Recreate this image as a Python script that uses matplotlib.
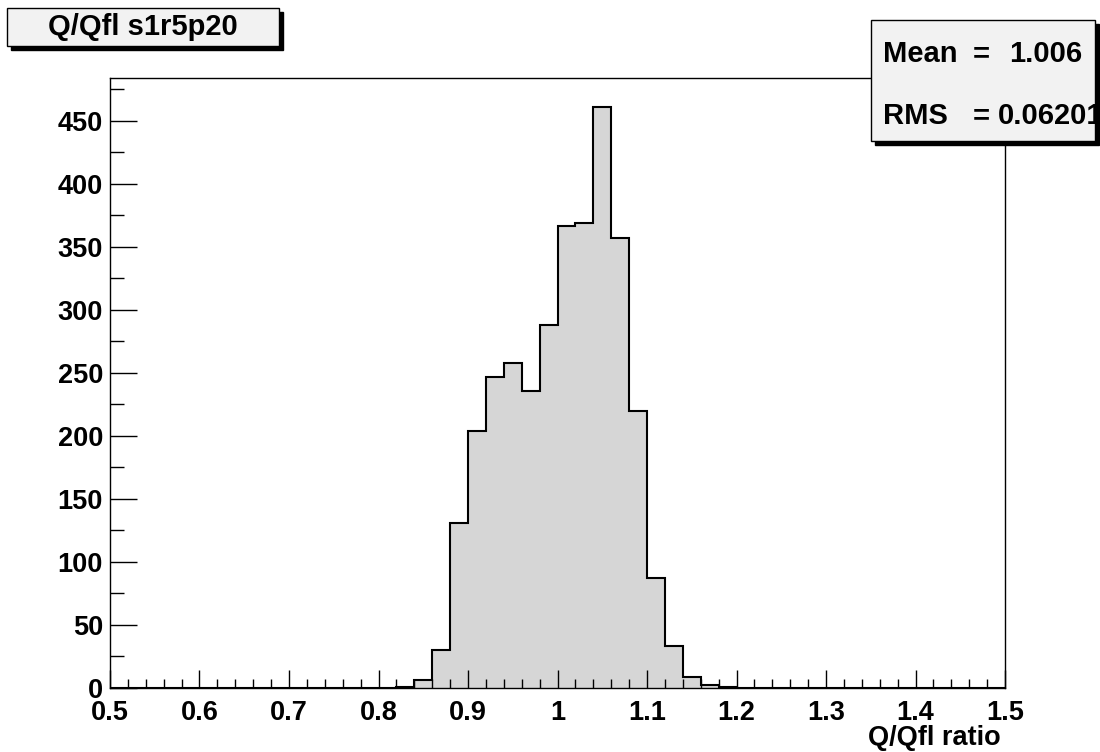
import numpy as np
import matplotlib
matplotlib.use("Agg")
import matplotlib.pyplot as plt
from matplotlib.patches import Rectangle
from matplotlib.ticker import MultipleLocator

plt.rcParams['font.family'] = ['Liberation Sans', 'DejaVu Sans']
plt.rcParams['font.weight'] = 'bold'

# ---- data ----
bin_edges_lo = 0.5
bin_edges_hi = 1.5
n_bins = 50
counts = [0]*16 + [1, 6, 30, 131, 204, 247, 258, 236, 288, 367, 369, 461, 357, 220,
                   87, 33, 9, 2, 1] + [0]*15
title_text = "Q/Qfl s1r5p20"
xlabel_text = "Q/Qfl ratio"
stat_names = ["Mean", "RMS"]
stat_values = ["1.006", "0.06201"]
x_ticks = [0.5, 0.6, 0.7, 0.8, 0.9, 1.0, 1.1, 1.2, 1.3, 1.4, 1.5]
x_tick_labels = ["0.5", "0.6", "0.7", "0.8", "0.9", "1", "1.1", "1.2", "1.3", "1.4", "1.5"]
y_ticks = [0, 50, 100, 150, 200, 250, 300, 350, 400, 450]

W, H = 1100, 752
fig = plt.figure(figsize=(W/100, H/100), dpi=100)
fig.patch.set_facecolor('white')

def fx(px): return px / W
def fy(py): return 1 - py / H

ax = fig.add_axes([fx(110), fy(688), fx(1005) - fx(110), fy(78) - fy(688)])
edges = np.linspace(bin_edges_lo, bin_edges_hi, n_bins + 1)
vals = np.array(counts, dtype=float)
ax.stairs(vals, edges, fill=True, color='#d6d6d6', baseline=0)
ax.stairs(vals, edges, fill=False, color='black', linewidth=1.5, baseline=0)
ax.set_xlim(bin_edges_lo, bin_edges_hi)
ax.set_ylim(0, vals.max() * 1.05)

ax.set_xticks(x_ticks)
ax.set_xticklabels(x_tick_labels)
ax.set_yticks(y_ticks)
ax.xaxis.set_minor_locator(MultipleLocator(0.02))
ax.yaxis.set_minor_locator(MultipleLocator(25))
ax.tick_params(axis='x', which='major', direction='in', length=13, width=1, pad=9,
               labelsize=19.5, top=False)
ax.tick_params(axis='x', which='minor', direction='in', length=6.5, width=1, top=False)
ax.tick_params(axis='y', which='major', direction='in', length=19.5, width=1, pad=5,
               labelsize=19.5, right=False)
ax.tick_params(axis='y', which='minor', direction='in', length=10, width=1, right=False)
for lab in ax.get_xticklabels() + ax.get_yticklabels():
    lab.set_fontweight('bold')
for s in ax.spines.values():
    s.set_linewidth(1.0)
    s.set_color('black')

fig.text(fx(1001), fy(745), xlabel_text, ha='right', va='baseline',
         fontsize=19.5, fontweight='bold')

# title box
def shadow_box(x0, y0, x1, y1, off=4):
    fig.patches.append(Rectangle((fx(x0 + off), fy(y1 + off)), fx(x1 - x0), fy(y0) - fy(y1),
                                 transform=fig.transFigure, facecolor='black',
                                 edgecolor='black', zorder=5))
    fig.patches.append(Rectangle((fx(x0), fy(y1)), fx(x1 - x0), fy(y0) - fy(y1),
                                 transform=fig.transFigure, facecolor='#f2f2f2',
                                 edgecolor='black', linewidth=1.0, zorder=6))

shadow_box(7, 8, 279, 46)
fig.text(fx(143), fy(35), title_text, ha='center', va='baseline', fontsize=21,
         fontweight='bold', zorder=7)

shadow_box(871, 20, 1095, 141)
ys = [62, 124]
val_x = [1009, 998]
for name, v, yy, vx in zip(stat_names, stat_values, ys, val_x):
    fig.text(fx(883), fy(yy), name, ha='left', va='baseline', fontsize=21,
             fontweight='bold', zorder=7)
    fig.text(fx(973), fy(yy), "=", ha='left', va='baseline', fontsize=21,
             fontweight='bold', zorder=7)
    fig.text(fx(vx), fy(yy), v, ha='left', va='baseline', fontsize=21,
             fontweight='bold', zorder=7)

fig.savefig("out.png", dpi=100)
